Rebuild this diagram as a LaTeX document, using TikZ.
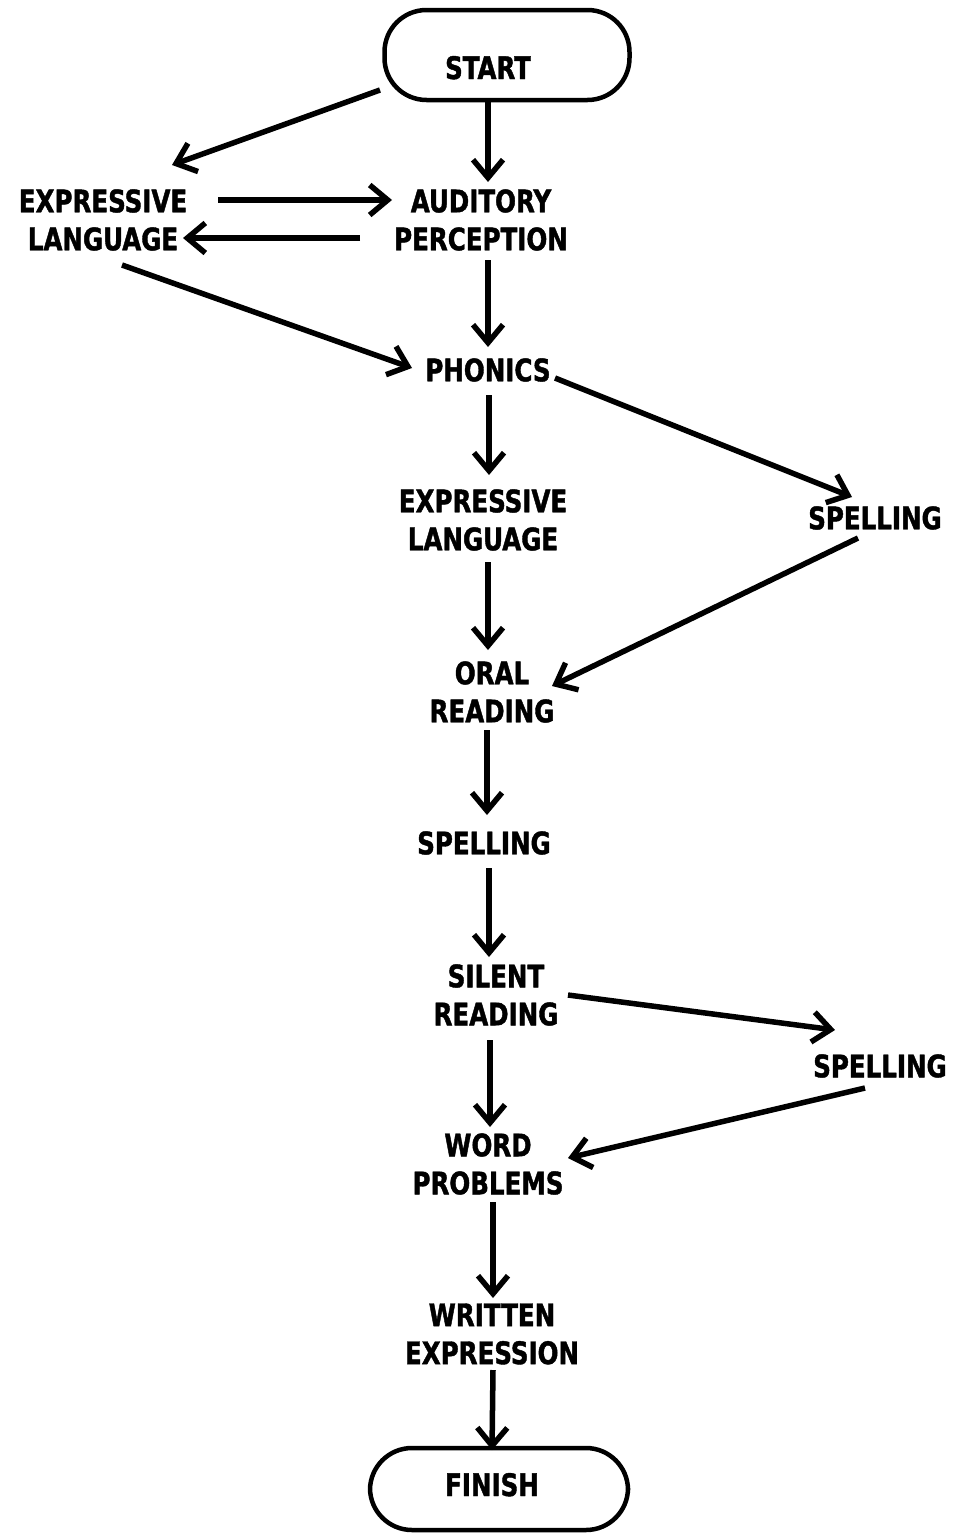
\documentclass[tikz,border=0pt]{standalone}
\usepackage{fontspec}
\setmainfont{DejaVu Sans Condensed Bold}[FakeStretch=0.88,FakeBold=1.3]
\usetikzlibrary{arrows.meta}
% text placed off the centre of a terminal shape
\newcommand{\offtext}[3]{\raisebox{#2}[0pt][0pt]{\makebox[0pt]{\hspace*{#1}#3}}}
\begin{document}
\begin{tikzpicture}[x=1pt,y=-1pt,
  label/.style={align=center,inner sep=0pt,font=\fontsize{31}{38}\selectfont},
  terminal/.style={label,draw,line width=4.5pt,rounded corners=42pt},
  flow/.style={line width=5.5pt,-{Straight Barb[length=18pt,width=30pt]}}]
\useasboundingbox (0,0) rectangle (961,1534);

% steps
\node[terminal,minimum width=245pt,minimum height=90pt] (start) at (507,55)
  {\offtext{-38pt}{-24pt}{START}};
\node[label] (el1) at (103,220) {EXPRESSIVE\\LANGUAGE};
\node[label] (ap) at (481,220) {AUDITORY\\PERCEPTION};
\node[label] (ph) at (488,370) {PHONICS};
\node[label] (el2) at (483,520) {EXPRESSIVE\\LANGUAGE};
\node[label] (sp1) at (875,518) {SPELLING};
\node[label] (oral) at (492,692) {ORAL\\READING};
\node[label] (sp2) at (484,843) {SPELLING};
\node[label] (silent) at (496,995) {SILENT\\READING};
\node[label] (sp3) at (880,1066) {SPELLING};
\node[label] (word) at (488,1164) {WORD\\PROBLEMS};
\node[label] (written) at (492,1334) {WRITTEN\\EXPRESSION};
\node[terminal,minimum width=258pt,minimum height=82pt] (finish) at (499,1489)
  {\offtext{-14pt}{-7pt}{FINISH}};

% connectors
\draw[flow] ([shift={(-127,35)}]start.center) -- ([shift={(69,-55)}]el1.center);
\draw[flow] ([shift={(-19,45)}]start.center) -- ([shift={(7,-38)}]ap.center);
\draw[flow] ([shift={(115,-20)}]el1.center) -- ([shift={(-89,-20)}]ap.center);
\draw[flow] ([shift={(-121,18)}]ap.center) -- ([shift={(80,18)}]el1.center);
\draw[flow] ([shift={(19,45)}]el1.center) -- ([shift={(-76,-2)}]ph.center);
\draw[flow] ([shift={(7,40)}]ap.center) -- ([shift={(0,-23)}]ph.center);
\draw[flow] ([shift={(67,8)}]ph.center) -- ([shift={(-23,-21)}]sp1.center);
\draw[flow] ([shift={(1,25)}]ph.center) -- ([shift={(6,-45)}]el2.center);
\draw[flow] ([shift={(5,42)}]el2.center) -- ([shift={(-4,-42)}]oral.center);
\draw[flow] ([shift={(-17,20)}]sp1.center) -- ([shift={(60,-6)}]oral.center);
\draw[flow] ([shift={(-5,38)}]oral.center) -- ([shift={(3,-28)}]sp2.center);
\draw[flow] ([shift={(5,25)}]sp2.center) -- ([shift={(-7,-38)}]silent.center);
\draw[flow] ([shift={(72,0)}]silent.center) -- ([shift={(-45,-36)}]sp3.center);
\draw[flow] ([shift={(-6,45)}]silent.center) -- ([shift={(2,-37)}]word.center);
\draw[flow] ([shift={(-15,22)}]sp3.center) -- ([shift={(80,-6)}]word.center);
\draw[flow] ([shift={(5,38)}]word.center) -- ([shift={(1,-36)}]written.center);
\draw[flow] ([shift={(1,36)}]written.center) -- ([shift={(-7,-39)}]finish.center);
\end{tikzpicture}
\end{document}
